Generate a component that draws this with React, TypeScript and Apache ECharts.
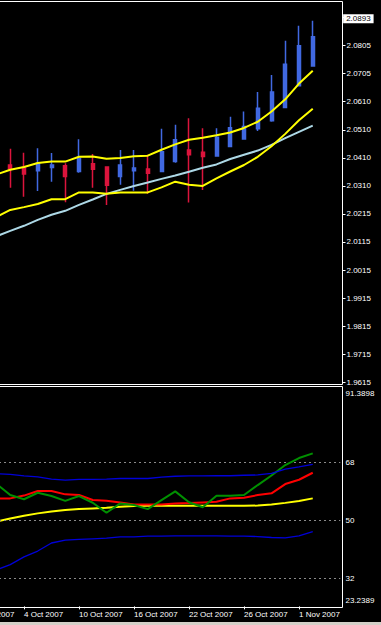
import React, { useEffect, useRef } from 'react';
import * as echarts from 'echarts';

// ---------- data ----------
const dates = [
  '28 Sep 2007', '1 Oct 2007', '2 Oct 2007', '3 Oct 2007', '4 Oct 2007', '5 Oct 2007',
  '8 Oct 2007', '9 Oct 2007', '10 Oct 2007', '11 Oct 2007', '12 Oct 2007', '15 Oct 2007',
  '16 Oct 2007', '17 Oct 2007', '18 Oct 2007', '19 Oct 2007', '22 Oct 2007', '23 Oct 2007',
  '24 Oct 2007', '25 Oct 2007', '26 Oct 2007', '29 Oct 2007', '30 Oct 2007', '31 Oct 2007',
  '1 Nov 2007', '2 Nov 2007', '5 Nov 2007', '6 Nov 2007',
];

// candles from 3 Oct 2007 to 2 Nov 2007
const CANDLE_START = 3;
const candleOpen = [2.0383, 2.0372, 2.0363, 2.0374, 2.0380, 2.0360, 2.0387, 2.0376, 2.0342, 2.0363, 2.0369, 2.0360, 2.0395, 2.0436, 2.0428, 2.0415, 2.0448, 2.0475, 2.0511, 2.0539, 2.0586, 2.0663, 2.0733];
const candleClose = [2.0369, 2.0351, 2.0389, 2.0383, 2.0342, 2.0407, 2.0368, 2.0311, 2.0383, 2.0372, 2.0354, 2.0430, 2.0472, 2.0419, 2.0413, 2.0481, 2.0515, 2.0519, 2.0584, 2.0641, 2.0739, 2.0805, 2.0836];
const candleLow = [2.0303, 2.0271, 2.0291, 2.0324, 2.0251, 2.0356, 2.0303, 2.0242, 2.0313, 2.0292, 2.0281, 2.0357, 2.0391, 2.0250, 2.0295, 2.0413, 2.0446, 2.0472, 2.0503, 2.0536, 2.0585, 2.0662, 2.0732];
const candleHigh = [2.0440, 2.0426, 2.0442, 2.0425, 2.0389, 2.0474, 2.0422, 2.0377, 2.0436, 2.0436, 2.0419, 2.0511, 2.0525, 2.0548, 2.0513, 2.0513, 2.0554, 2.0572, 2.0641, 2.0701, 2.0822, 2.0875, 2.0893];
const currentPrice = 2.0893;

// indicator lines from 2 Oct 2007 to 2 Nov 2007
const LINE_START = 2;
const upperBand = [2.0350, 2.0366, 2.0376, 2.0390, 2.0395, 2.0395, 2.0412, 2.0413, 2.0405, 2.0408, 2.0414, 2.0416, 2.0437, 2.0456, 2.0472, 2.0479, 2.0488, 2.0498, 2.0514, 2.0536, 2.0572, 2.0615, 2.0671, 2.0716];
const lowerBand = [2.0199, 2.0224, 2.0234, 2.0245, 2.0262, 2.0262, 2.0286, 2.0286, 2.0281, 2.0286, 2.0286, 2.0286, 2.0304, 2.0324, 2.0313, 2.0309, 2.0336, 2.0360, 2.0383, 2.0412, 2.0449, 2.0493, 2.0541, 2.0582];
const slowMA = [2.0131, 2.0150, 2.0168, 2.0189, 2.0207, 2.0221, 2.0242, 2.0261, 2.0281, 2.0295, 2.0309, 2.0321, 2.0334, 2.0346, 2.0359, 2.0373, 2.0385, 2.0404, 2.0419, 2.0434, 2.0454, 2.0478, 2.0500, 2.0522];

const rsiGreen = [61.2, 57.76, 56.46, 58.47, 57.45, 55.96, 57.45, 55.37, 52.27, 55.18, 54.66, 53.41, 56.21, 58.91, 55.52, 53.97, 57.54, 57.54, 57.76, 60.86, 63.81, 67.07, 69.24, 70.70];
const rsiRed = [56.73, 56.73, 57.60, 59.0, 59.0, 57.98, 57.76, 56.21, 55.99, 55.43, 54.87, 54.87, 54.87, 55.12, 55.28, 55.49, 55.68, 56.73, 56.92, 57.76, 58.29, 61.17, 62.51, 64.68];
const rsiYellow = [49.53, 50.47, 51.33, 52.08, 52.64, 53.10, 53.41, 53.63, 53.82, 54.13, 54.35, 54.41, 54.44, 54.44, 54.44, 54.44, 54.44, 54.44, 54.44, 54.50, 54.81, 55.34, 55.90, 56.73];
const rsiUpper = [64.4, 64.2, 63.7, 63.4, 62.7, 62.4, 62.6, 62.6, 62.7, 62.9, 62.9, 62.9, 63.3, 63.6, 63.7, 63.7, 63.75, 63.75, 63.9, 64.0, 64.5, 65.8, 66.5, 67.3];
const rsiLower = [34.6, 36.2, 38.6, 40.4, 42.9, 43.8, 44.0, 44.2, 44.4, 44.8, 44.8, 45.0, 45.0, 45.1, 45.1, 45.1, 45.1, 45.0, 45.0, 44.9, 44.6, 44.5, 45.1, 46.4];
const rsiLevels = [68, 50, 32];

// axis tick labels
const priceTickLabels = ['1.9615', '1.9715', '1.9815', '1.9915', '2.0015', '2.0115', '2.0215', '2.0310', '2.0410', '2.0510', '2.0610', '2.0705', '2.0805', '2.0905'];
const PRICE_TICK_BASE = 1.9615;
const PRICE_TICK_STEP = 0.119 / 12;
const priceMin = 1.9607;
const priceMax = 2.0961;
const rsiTickValues = [23.2389, 32, 50, 68, 91.3898];
const rsiTickLabels = ['23.2389', '32', '50', '68', '91.3898'];

// ---------- layout ----------
const FONT = "'Liberation Sans', Arial, sans-serif";
const PAGE_W = 381;
const PAGE_H = 625;
const SHIFT = 38; // chart canvas starts this far left of the page
const CHART_W = PAGE_W + SHIFT;
const BAND = 13.75;
const GRID_LEFT = SHIFT - 37.875; // band of "28 Sep" starts 37.875px left of the page
const GRID_W = BAND * dates.length;
const BORDER_X = SHIFT + 342.5;
const AXIS_OFFSET = BORDER_X - (GRID_LEFT + GRID_W);

const pad = (arr: number[], start: number) =>
  dates.map((_, i) => (i >= start && i - start < arr.length ? arr[i - start] : null));

const candleData = dates.map((_, i) => {
  const k = i - CANDLE_START;
  if (k < 0 || k >= candleOpen.length) return '-';
  return [candleOpen[k], candleClose[k], candleLow[k], candleHigh[k]];
});

const priceTickValues = priceTickLabels.map((_, k) => PRICE_TICK_BASE + k * PRICE_TICK_STEP);

const lineSeries = (name: string, data: number[], xi: number, color: string, width: number, z: number, extra: any = {}) => ({
  name,
  type: 'line',
  xAxisIndex: xi,
  yAxisIndex: xi,
  data: pad(data, LINE_START),
  symbol: 'none',
  showSymbol: false,
  smooth: false,
  lineStyle: { color, width },
  z,
  silent: true,
  ...extra,
});

export default function App() {
  const ref = useRef<HTMLDivElement>(null);

  useEffect(() => {
    document.body.style.margin = '0';
    document.body.style.background = '#000';
    document.body.style.overflow = 'hidden';
    const chart = echarts.init(ref.current!, null, { renderer: 'svg' });

    const option: any = {
      animation: false,
      backgroundColor: '#000',
      textStyle: { fontFamily: FONT },
      grid: [
        { left: GRID_LEFT, width: GRID_W, top: 1.5, height: 383, show: false, outerBoundsMode: 'none', containLabel: false },
        { left: GRID_LEFT, width: GRID_W, top: 386.6, height: 219.8, show: false, outerBoundsMode: 'none', containLabel: false },
      ],
      xAxis: [
        {
          type: 'category', gridIndex: 0, data: dates, boundaryGap: true,
          axisLine: { show: false }, axisTick: { show: false }, axisLabel: { show: false }, splitLine: { show: false },
        },
        {
          type: 'category', gridIndex: 1, data: dates, boundaryGap: true,
          axisLine: { show: false },
          axisTick: { show: true, alignWithLabel: true, interval: 3, length: 3, lineStyle: { color: '#fff', width: 1 } },
          axisLabel: { interval: 3, align: 'left', color: '#fff', fontSize: 8, margin: 4, fontFamily: FONT },
          splitLine: { show: false },
        },
      ],
      yAxis: [
        {
          type: 'value', gridIndex: 0, position: 'right', offset: AXIS_OFFSET,
          min: priceMin, max: priceMax,
          axisLine: { show: false }, splitLine: { show: false },
          axisTick: { show: true, customValues: priceTickValues, length: 3, lineStyle: { color: '#fff' } },
          axisLabel: {
            customValues: priceTickValues,
            color: '#fff', fontSize: 8, margin: 4, fontFamily: FONT,
            formatter: (v: number) => {
              const i = Math.round((v - PRICE_TICK_BASE) / PRICE_TICK_STEP);
              return priceTickLabels[i] ?? '';
            },
          },
        },
        {
          type: 'value', gridIndex: 1, position: 'right', offset: AXIS_OFFSET,
          min: rsiTickValues[0], max: rsiTickValues[rsiTickValues.length - 1],
          axisLine: { show: false }, splitLine: { show: false }, axisTick: { show: false },
          axisLabel: {
            customValues: rsiTickValues,
            showMinLabel: true, showMaxLabel: true,
            color: '#fff', fontSize: 8, margin: 3, fontFamily: FONT,
            formatter: (v: number) => {
              const i = rsiTickValues.findIndex((t) => Math.abs(t - v) < 1e-6);
              if (i < 0) return '';
              const s = rsiTickLabels[i];
              if (i === 0) return `{lo|${s}}`;
              if (i === rsiTickValues.length - 1) return `{hi|${s}}`;
              return s;
            },
            rich: {
              lo: { padding: [0, 0, 12, 0], color: '#fff', fontSize: 8, fontFamily: FONT },
              hi: { padding: [13, 0, 0, 0], color: '#fff', fontSize: 8, fontFamily: FONT },
            },
          },
        },
      ],
      graphic: [
        {
          type: 'rect', silent: true, z: 100,
          shape: { x: SHIFT - 1.5, y: 1.5, width: 344, height: 383 },
          style: { fill: 'none', stroke: '#fff', lineWidth: 1 },
        },
        {
          type: 'rect', silent: true, z: 100,
          shape: { x: SHIFT - 1.5, y: 386.5, width: 344, height: 221 },
          style: { fill: 'none', stroke: '#fff', lineWidth: 1 },
        },
        {
          type: 'rect', silent: true, z: 100,
          shape: { x: SHIFT, y: 622, width: PAGE_W, height: 3 },
          style: { fill: '#d4d0c8' },
        },
      ],
      series: [
        {
          name: 'price',
          type: 'candlestick',
          xAxisIndex: 0, yAxisIndex: 0,
          data: candleData,
          barWidth: 3.5,
          z: 2,
          silent: true,
          itemStyle: {
            color: '#4169E1', color0: '#DC143C',
            borderColor: '#4169E1', borderColor0: '#DC143C',
            borderWidth: 1.5,
          },
        },
        {
          // carrier series for the current-price tag on the price axis
          name: 'bid',
          type: 'line',
          xAxisIndex: 0, yAxisIndex: 0,
          data: [],
          z: 20,
          silent: true,
          markLine: {
            silent: true,
            z: 20,
            symbol: ['none', 'none'],
            lineStyle: { color: 'rgba(0,0,0,0)', width: 1, type: 'solid' },
            label: {
              show: true, position: 'end', distance: -4,
              formatter: currentPrice.toFixed(4),
              color: '#000', backgroundColor: '#fff',
              padding: [1, 3, 0, 3], fontSize: 8, fontFamily: FONT,
            },
            data: [{ yAxis: currentPrice }],
          },
        },
        lineSeries('slowMA', slowMA, 0, '#ADD8E6', 2, 3),
        lineSeries('lowerBand', lowerBand, 0, '#FFFF00', 2, 3),
        lineSeries('upperBand', upperBand, 0, '#FFFF00', 2, 3),
        lineSeries('rsiYellow', rsiYellow, 1, '#FFFF00', 2, 3, {
          markLine: {
            silent: true,
            symbol: ['none', 'none'],
            label: { show: false },
            lineStyle: { color: '#8a8a8a', width: 1, type: [2, 3] },
            data: rsiLevels.map((l) => [
              { coord: [dates[0], l] },
              { coord: [dates[dates.length - 1], l] },
            ]),
          },
        }),
        lineSeries('rsiRed', rsiRed, 1, '#FF0000', 2, 4),
        lineSeries('rsiGreen', rsiGreen, 1, '#009000', 2, 5),
        lineSeries('rsiUpper', rsiUpper, 1, '#0000D8', 1.3, 6),
        lineSeries('rsiLower', rsiLower, 1, '#0000D8', 1.3, 6),
      ],
    };

    chart.setOption(option);
    return () => chart.dispose();
  }, []);

  return (
    <div
      ref={ref}
      style={{ width: CHART_W, height: PAGE_H, marginLeft: -SHIFT, background: '#000' }}
    />
  );
}
